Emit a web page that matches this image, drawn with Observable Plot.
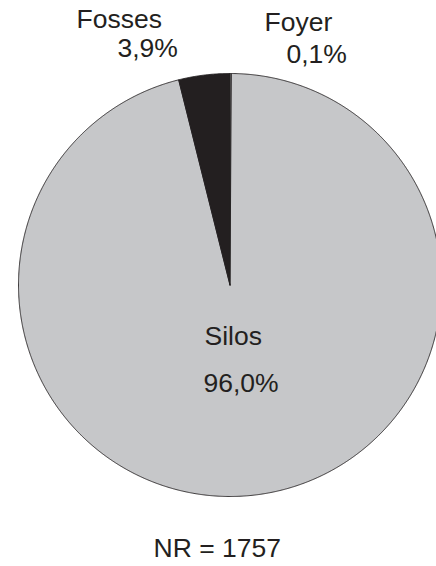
<!DOCTYPE html>
<html>
<head>
<meta charset="utf-8">
<script src="https://cdn.jsdelivr.net/npm/d3@7"></script>
<script src="https://cdn.jsdelivr.net/npm/@observablehq/plot@0.6"></script>
<style>
  html, body { margin: 0; padding: 0; background: #fff; overflow: hidden; }
</style>
</head>
<body>
<div id="chart"></div>
<script>
// Data (clockwise from 12 o'clock)
const categories = ["Foyer", "Silos", "Fosses"];
const percents = [0.1, 96.0, 3.9];
const percentLabels = ["0,1%", "96,0%", "3,9%"];
const colors = ["#ffffff", "#c6c7c9", "#231f20"];
const caption = "NR = 1757";

// Layout (pixels)
const W = 436, H = 566;
const cx = 229.5, cy = 284.5, R = 211.5;
const ink = "#231f20";
const labelPos = {
  Fosses: {name: [76, 19.5], pct: [117, 48.5]},
  Foyer:  {name: [264, 22.5], pct: [286, 54.5]},
  Silos:  {name: [204, 336.5], pct: [203, 383.5]}
};

// Build slice polygons from the values
const total = d3.sum(percents);
const pts = [];
let acc = 0;
categories.forEach((cat, i) => {
  const a0 = acc / total * 2 * Math.PI;
  acc += percents[i];
  const a1 = acc / total * 2 * Math.PI;
  const n = Math.max(2, Math.ceil((a1 - a0) / (Math.PI / 720)));
  pts.push({cat, x: cx, y: cy});
  for (let k = 0; k <= n; k++) {
    const a = a0 + (a1 - a0) * k / n;
    pts.push({cat, x: cx + R * Math.sin(a), y: cy - R * Math.cos(a)});
  }
  pts.push({cat, x: cx, y: cy});
});

const labels = [];
categories.forEach((cat, i) => {
  const p = labelPos[cat];
  labels.push({t: cat, x: p.name[0], y: p.name[1]});
  labels.push({t: percentLabels[i], x: p.pct[0], y: p.pct[1]});
});
labels.push({t: caption, x: 153, y: 548});

const chart = Plot.plot({
  width: W,
  height: H,
  margin: 0,
  style: {fontFamily: "'Liberation Sans', Arial, Helvetica, sans-serif", background: "#fff", overflow: "hidden"},
  x: {domain: [0, W], range: [0, W], axis: null},
  y: {domain: [0, H], range: [0, H], axis: null},
  color: {domain: categories, range: colors},
  marks: [
    Plot.line(pts, {x: "x", y: "y", z: "cat", fill: "cat", stroke: ink, strokeWidth: 0.9, strokeLinejoin: "miter"}),
    Plot.text(labels, {x: "x", y: "y", text: "t", textAnchor: "start", lineAnchor: "middle", fontSize: 26.5, fill: ink})
  ]
});
document.getElementById("chart").appendChild(chart);
</script>
</body>
</html>
